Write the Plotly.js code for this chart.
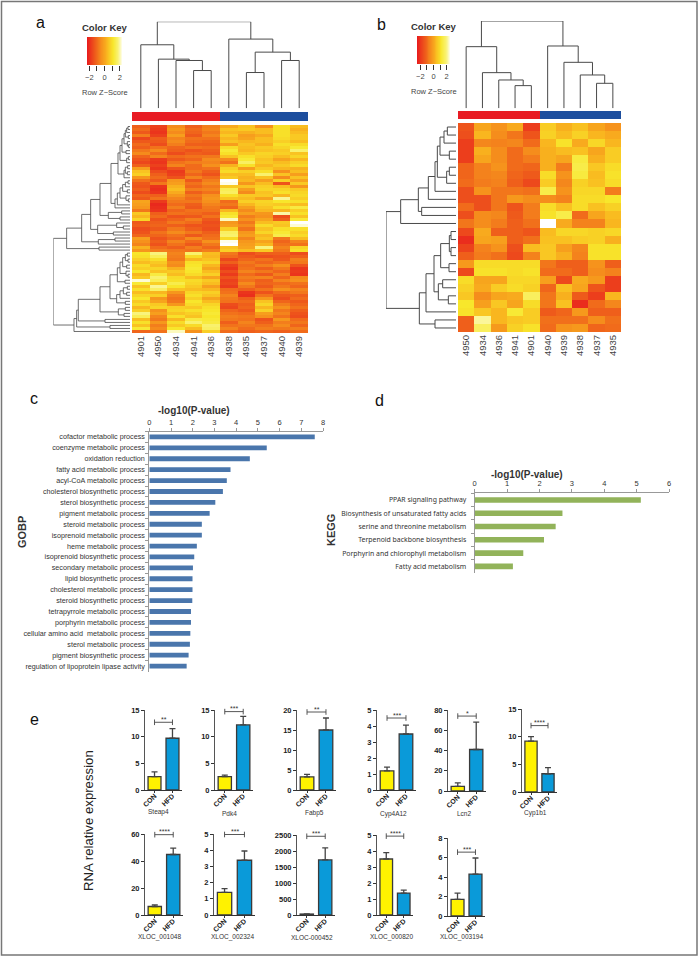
<!DOCTYPE html>
<html><head><meta charset="utf-8">
<script src="https://cdn.plot.ly/plotly-3.0.1.min.js"></script>
<style>html,body{margin:0;padding:0;background:#fff}</style></head>
<body><div id="chart" style="width:699px;height:958px"></div>
<script>
// ---------- heatmap a ----------
const samplesA = ['4901','4950','4934','4941','4936','4938','4935','4937','4940','4939'];
const groupsA = [0,0,0,0,0,1,1,1,1,1];
const heatA = [
[-1.2,-1.7,-0.5,-1.2,-0.7,0.0,0.4,-0.4,0.9,0.3],
[-1.0,-1.8,-0.3,-1.0,-0.6,0.4,0.5,0.3,0.9,0.1],
[-1.3,-1.9,-0.5,-1.1,-0.8,0.2,0.1,0.3,0.9,0.3],
[-0.7,-1.7,-0.2,-1.3,-0.6,0.5,-0.2,0.0,0.9,0.5],
[-1.6,-1.2,-0.6,-0.9,-0.9,0.2,-0.1,0.3,0.8,0.5],
[-1.3,-1.3,-0.5,-1.0,-1.1,0.4,0.2,0.3,0.6,0.3],
[-1.0,-1.5,-0.7,-1.2,-1.2,-0.2,0.4,0.1,0.9,0.8],
[-1.2,-0.9,-1.1,-0.9,-1.0,0.8,0.3,0.5,0.7,1.1],
[-0.8,-0.5,-1.2,-1.4,-1.2,1.1,0.2,0.4,0.5,1.6],
[-0.5,-1.0,-1.5,-1.2,-1.3,0.9,0.5,0.7,0.6,0.4],
[-1.1,-0.6,-1.0,-0.9,-0.8,0.4,0.9,0.6,0.3,0.7],
[-1.4,-1.8,-1.3,-1.1,-0.5,-0.5,1.1,0.4,-0.1,0.2],
[-1.6,-1.9,-0.9,-0.7,-0.6,-0.9,1.5,0.5,0.3,0.6],
[-1.2,-1.7,-0.6,-1.0,-0.4,0.1,0.9,0.2,0.5,0.8],
[-0.2,-1.9,-1.4,-1.0,-0.9,0.6,-0.2,0.5,0.2,0.1],
[0.4,-1.5,-1.8,-0.8,-1.2,0.8,0.6,0.9,-0.4,0.3],
[0.6,-1.2,-1.7,-1.1,-1.4,0.3,0.3,1.6,0.4,-0.2],
[-0.3,-1.0,-1.4,-0.6,-1.0,0.5,0.1,0.4,-0.5,0.4],
[-0.9,-1.3,-0.3,-1.3,-0.7,2.3,0.2,-0.2,0.6,-0.1],
[-1.3,-0.8,-0.2,-0.9,-0.5,2.2,-0.3,0.3,-1.4,0.5],
[-1.4,-1.9,0.1,-1.1,-0.8,0.5,0.4,0.6,0.3,-0.3],
[-1.2,-2.0,0.3,-0.7,-0.6,1.4,-0.2,0.7,0.7,0.5],
[-1.5,-1.9,0.0,-1.2,-0.9,1.5,-0.5,0.4,0.9,0.7],
[-1.1,-1.2,-0.3,-0.8,-0.4,0.9,0.5,0.5,0.2,0.8],
[-1.3,-0.9,-0.6,-1.0,-0.3,0.4,0.3,-0.1,1.8,0.6],
[-0.1,-1.8,-0.8,-0.8,-0.4,-1.0,0.6,0.7,1.0,0.9],
[-0.2,-2.1,-1.0,-1.2,-0.6,-0.8,0.2,0.6,0.5,0.3],
[-0.3,-2.0,-0.7,-1.3,-0.8,-1.1,-0.2,0.4,0.9,1.2],
[-0.8,-1.9,-1.1,-0.9,-0.9,0.2,-0.5,0.2,0.2,0.6],
[0.5,-1.2,-0.9,-1.0,-1.2,0.9,-0.2,-0.3,1.9,0.9],
[0.2,-1.0,-1.4,-1.3,-0.9,1.1,-0.7,-0.4,-1.5,0.4],
[0.7,-1.4,-1.1,-0.7,-1.3,2.0,-0.4,-0.1,-1.2,1.1],
[-1.3,-1.2,-0.8,-1.0,-1.5,-0.3,-0.8,0.3,0.5,2.3],
[-1.2,-1.1,-1.2,-1.4,-1.4,-0.2,-0.5,0.8,0.4,2.1],
[-1.5,-1.3,-0.8,-1.2,-1.5,0.6,-0.9,0.4,0.9,0.9],
[-1.4,-0.9,-0.5,-0.8,-1.2,1.5,-0.3,0.7,1.1,0.6],
[-1.1,-1.1,-0.9,-1.3,-1.0,1.6,-0.2,0.2,1.3,0.8],
[-0.2,-1.4,-1.1,-0.5,-0.9,0.8,-0.6,0.4,-0.8,0.3],
[-0.4,-1.2,-0.6,-1.0,-0.4,2.2,-0.3,-0.1,-1.1,-0.6],
[-0.6,-1.4,-0.9,-1.3,-0.8,2.3,-0.2,0.2,-0.9,-0.9],
[0.1,-1.0,-1.2,-0.7,-1.1,0.4,-0.1,1.7,-0.6,0.7],
[-0.3,-0.7,-0.8,-0.9,-0.7,0.6,0.3,0.5,-0.8,0.9],
[1.0,1.7,-0.6,1.6,0.3,-0.8,-1.5,-1.2,-1.2,-1.5],
[0.9,1.4,-0.7,0.8,0.2,-1.0,-1.3,-1.5,-1.4,-1.2],
[0.6,0.9,-0.8,0.2,0.4,-1.6,-1.1,-0.9,-1.3,-0.7],
[0.3,0.5,-0.4,0.9,0.7,-1.2,-0.8,-1.1,-0.9,-0.8],
[0.8,0.3,-0.5,1.0,0.2,-1.7,-1.0,-0.7,-0.4,-1.4],
[0.6,0.7,0.1,1.1,-0.1,-1.9,-0.9,-1.2,-0.8,-1.9],
[1.0,0.4,0.5,1.0,0.3,-1.5,-0.6,-0.8,-1.1,-1.8],
[0.2,1.2,0.3,0.8,0.6,-1.8,-1.0,-1.3,-0.7,-1.9],
[0.5,1.6,0.8,0.3,-0.1,-1.4,-0.7,-0.6,-1.1,-0.5],
[2.1,1.4,0.9,0.8,0.5,-1.7,-0.9,-1.2,-0.6,-0.4],
[1.1,0.6,1.3,0.7,0.3,-1.6,-0.5,-1.1,-1.0,-0.9],
[0.4,1.8,1.0,0.5,-0.2,-1.8,-0.8,-1.3,-0.8,-1.1],
[0.9,1.5,0.4,0.3,0.2,-1.0,-1.2,-0.9,-0.4,-0.6],
[0.3,0.2,-0.3,0.7,0.6,-0.9,-1.9,-1.4,-1.0,-0.8],
[0.7,0.6,-0.7,0.9,0.4,-0.6,-2.0,-0.9,-1.3,-1.2],
[1.0,-0.3,-0.9,0.6,-0.1,-0.8,-1.2,-0.3,-1.5,-1.0],
[0.5,-0.1,-0.8,1.0,0.3,-0.9,-1.0,0.4,-1.1,-1.3],
[0.8,0.5,-0.3,0.8,0.7,-1.5,-1.2,0.7,-0.7,-1.1],
[0.2,0.7,0.6,0.5,0.9,-1.6,-1.1,0.2,-0.4,-0.9],
[0.6,-0.4,0.7,0.9,1.0,-1.1,-1.3,0.6,-0.8,-1.2],
[1.7,-0.2,0.4,0.6,1.1,-0.9,-1.0,-0.2,-0.6,-1.4],
[1.4,-0.6,0.9,0.4,1.0,-0.7,-0.8,-0.4,-0.9,-1.5],
[0.3,-0.8,0.2,1.2,1.1,-0.8,-0.9,-1.4,-0.3,-1.0],
[0.9,-0.3,0.8,1.6,1.2,-1.2,-0.6,-1.2,-0.7,-0.8],
[0.4,-0.7,0.5,0.8,1.6,-0.9,-0.8,-0.9,-0.5,-1.1],
[1.1,-0.5,1.0,0.3,1.5,-0.6,-1.0,-0.7,-0.8,-0.7],
[-1.1,-0.9,2.0,-0.4,0.6,-1.0,-1.2,-1.1,-1.2,-1.0]
];
const keyValuesA = [-2.3,-2,-1.6,-1.2,-0.8,-0.4,0,0.4,0.8,1.2,1.6,2,2.3];
const keyTickVals = [-2,-1,0,1,2];
const keyTickText = ['\u22122','','0','','2'];
// trees: [height, child, child]; 0 is a leaf, leaves run in display order
const topTreeA = [259,
  [190,0,[147,0,[143,0,[113,0,0]]]],
  [207,0,[168,[107,0,0],[143,0,0]]]];
const leftTreeA = [230,
 [190,
  [145,
   [118,
    [90,
     [57,
      [36,
       [30,
        [24,
         [18,[14,[10,[6,0,0],0],[5,0,0]],[8,0,[4,0,0]]],
         [12,0,0]],
        [10,[5,0,0],0]],
       [18,[14,[7,0,0],[8,0,0]],0]],
      [45,[38,[30,[22,[14,[6,0,0],0],[8,0,0]],[12,0,[5,0,0]]],0],0]],
     [65,[25,0,0],[30,0,0]]],
    [97,[40,0,[20,0,0]],[50,0,0]]],
   [95,[45,0,0],0]],
  [93,0,0]],
 [168,
  [160,
   [155,
    [90,
     [60,
      [38,[30,[22,[14,[8,0,0],[6,0,0]],[10,0,0]],[12,0,[6,0,0]]],[15,0,0]],
      [40,[30,[20,[8,0,0],[10,0,0]],0],[14,0,0]]],
     [35,[14,0,0],[18,0,0]]],
    [75,0,0]],
   [60,0,0]],
  0]];
// ---------- heatmap b ----------
const samplesB = ['4950','4934','4936','4941','4901','4940','4939','4938','4937','4935'];
const groupsB = [0,0,0,0,0,1,1,1,1,1];
const heatB = [
[-1.5,-0.1,-0.4,0.0,-1.9,0.6,0.1,0.4,-0.1,-0.4],
[-1.6,0.2,-0.5,-0.9,-1.5,0.7,0.3,0.7,0.2,0.0],
[-1.9,-0.6,-0.7,-0.6,-1.1,0.2,1.0,0.0,0.8,0.2],
[-1.9,0.1,-0.5,-1.1,-0.5,0.1,0.3,0.4,-0.1,0.6],
[-1.9,-0.1,-0.5,-1.1,-0.8,0.1,-0.1,1.3,0.1,0.6],
[-1.2,-0.7,-0.4,-1.1,-1.2,0.1,-0.8,1.4,0.5,0.9],
[-1.2,-0.7,-0.6,-1.2,-1.4,0.9,-0.4,1.3,0.3,1.0],
[-1.1,-0.8,-0.7,-1.3,-1.7,0.6,-0.6,0.7,0.4,0.9],
[-1.6,-0.4,-0.9,-0.9,-1.0,1.4,-0.4,0.8,0.8,-0.8],
[-1.6,-1.6,-0.9,-0.3,-0.5,-0.5,-0.7,0.9,0.9,1.1],
[-1.1,-1.6,-0.9,-1.5,-0.8,0.9,0.4,0.9,0.4,0.7],
[-1.6,-0.5,-0.6,-1.4,-0.8,1.0,1.4,-1.1,-0.1,0.3],
[-0.9,-0.5,-0.8,-1.3,-1.0,2.5,0.0,-0.7,-0.7,0.2],
[-1.7,0.0,-1.3,-1.3,-1.5,0.3,0.8,0.8,0.7,0.8],
[-2.2,-0.1,-0.2,-1.3,-1.0,0.4,0.4,0.6,0.7,0.1],
[-1.8,-0.7,-0.4,-1.6,0.3,0.5,-0.2,-0.6,1.0,1.0],
[-1.3,-0.8,-1.0,-1.7,-0.7,0.5,0.1,-0.7,1.0,1.0],
[-0.3,0.9,0.9,0.9,0.9,-0.9,-1.3,-1.3,-0.4,-1.3],
[-1.7,1.0,1.0,0.9,1.0,-1.1,-1.1,-1.3,-0.5,-0.7],
[0.9,-0.1,-0.1,0.8,0.8,-0.2,-1.7,0.0,-0.3,-1.9],
[0.7,0.0,0.6,0.9,0.7,-1.2,0.4,-0.1,-1.5,-1.9],
[0.5,-0.5,-0.1,0.0,1.6,-0.9,0.1,-1.4,-1.9,0.2],
[1.1,-0.2,0.5,-0.1,0.9,-0.9,0.4,-2.2,-1.1,-0.6],
[1.0,0.5,0.2,1.2,0.6,-1.4,-1.2,-0.3,-1.3,-1.3],
[-1.3,2.0,0.2,0.5,0.6,-1.0,-1.0,-1.0,-0.5,-1.0],
[-1.3,1.6,-0.3,0.7,1.0,-1.1,-0.4,-0.3,-1.2,-1.1]
];
const keyValuesB = [-2.5,-2,-1.6,-1.2,-0.8,-0.4,0,0.4,0.8,1.2,1.6,2,2.5];
const topTreeB = [262,
  [185,0,[107,0,[85,0,[68,0,0]]]],
  [187,0,[138,0,[100,0,[75,0,0]]]]];
const leftTreeB = [210,
 [166,
  [113,
   [83,
    [63,
     [56,
      [48,[36,[26,0,0],0],[20,0,0]],
      [28,[20,0,0],0]],
     0],
    0],
   [103,0,0]],
  0],
 [110,
  [90,
   [66,
    [46,
     [20,[15,0,0],[15,0,0]],
     [21,0,0]],
    [53,[40,0,0],[23,0,0]]],
   0],
  [63,0,0]]];
// ---------- GOBP / KEGG ----------
const gobpTerms = ['cofactor metabolic process','coenzyme metabolic process','oxidation reduction','fatty acid metabolic process','acyl-CoA metabolic process','cholesterol biosynthetic process','sterol biosynthetic process','pigment metabolic process','steroid metabolic process','isoprenoid metabolic process','heme metabolic process','isoprenoid biosynthetic process','secondary metabolic process','lipid biosynthetic process','cholesterol metabolic process','steroid biosynthetic process','tetrapyrrole metabolic process','porphyrin metabolic process','cellular amino acid  metabolic process','sterol metabolic process','pigment biosynthetic process','regulation of lipoprotein lipase activity'];
const gobpValues = [7.62,5.41,4.63,3.74,3.57,3.39,3.04,2.78,2.42,2.42,2.19,2.07,2.01,1.99,1.99,1.98,1.92,1.92,1.89,1.87,1.81,1.72];
const keggTerms = ['PPAR signaling pathway','Biosynthesis of unsaturated fatty acids','serine and threonine metabolism','Terpenoid backbone biosynthesis','Porphyrin and chlorophyll metabolism','Fatty acid metabolism'];
const keggValues = [5.13,2.71,2.5,2.14,1.5,1.18];
// ---------- RNA bars ----------
const barGroups = ['CON','HFD'];
const geneNames = ['Steap4','Pdk4','Fabp5','Cyp4A12','Lcn2','Cyp1b1','XLOC_001048','XLOC_002324','XLOC-000452','XLOC_000820','XLOC_003194'];
const conMeans = [2.5,2.5,3.3,1.2,4.5,9.2,6.3,1.4,30,3.5,1.7];
const hfdMeans = [9.7,12.2,15,3.5,41,3.3,44.8,3.38,1720,1.37,4.3];
const conErrors = [0.9,0.3,0.6,0.23,3.5,0.8,1.2,0.23,5,0.4,0.65];
const hfdErrors = [1.8,1.6,3,0.55,27,1.1,4.7,0.57,380,0.18,1.65];
const axisMax = [15,15,20,5,80,15,60,5,2500,5,8];
const axisTicks = [[0,5,10,15],[0,5,10,15],[0,5,10,15,20],[0,1,2,3,4,5],[0,20,40,60,80],[0,5,10,15],[0,20,40,60],[0,1,2,3,4,5],[0,500,1000,1500,2000,2500],[0,1,2,3,4,5],[0,2,4,6,8]];
const bracketLevels = [12.7,14.7,19.5,4.5,74,12,59.5,4.97,2460,4.93,6.55];
const stars = ['**','***','**','***','*','****','****','***','***','****','***'];

// ---------- layout helpers ----------
const W=699,H=958, ARIAL='"Liberation Sans", Arial, sans-serif';
const data=[], annotations=[];
const layout={width:W,height:H,margin:{l:0,r:0,t:0,b:0},paper_bgcolor:'#fff',plot_bgcolor:'rgba(0,0,0,0)',showlegend:false,hovermode:false,font:{family:ARIAL,color:'#333'},annotations,
  shapes:[{type:'rect',xref:'paper',yref:'paper',x0:1.5/W,x1:697/W,y0:1-955/H,y1:1-1.5/H,line:{color:'#777',width:1.5}}]};
let axN=0;
function panel(xpx,ypx,xo,yo){
  axN++; const s=axN===1?'':axN;
  const base={fixedrange:true,showgrid:false,zeroline:false,showticklabels:false,ticks:''};
  layout['xaxis'+s]=Object.assign({},base,{domain:[xpx[0]/W,xpx[1]/W],anchor:'y'+s},xo);
  layout['yaxis'+s]=Object.assign({},base,{domain:[1-ypx[1]/H,1-ypx[0]/H],anchor:'x'+s},yo);
  return {xaxis:'x'+s,yaxis:'y'+s};
}
function text(t,x,y,size,opt){
  annotations.push(Object.assign({text:t,xref:'paper',yref:'paper',x:x/W,y:1-y/H,showarrow:false,xanchor:'center',yanchor:'middle',font:{size,family:ARIAL,color:'#333'}},opt||{}));
}
function walk(tree,st,a,b){ // collects a dendrogram outline from a nested tree
  if(tree===0) return {p:st.n++,h:0};
  const l=walk(tree[1],st,a,b), r=walk(tree[2],st,a,b), h=tree[0];
  a.push(l.p,l.p,r.p,r.p,null); b.push(l.h,h,h,r.h,null);
  return {p:(l.p+r.p)/2,h};
}
const heatScale=[[0,'#e81d1d'],[0.24,'#ef5f1b'],[0.42,'#f6931c'],[0.55,'#f9b91f'],[0.72,'#f8e72b'],[0.86,'#f9f272'],[1,'#ffffff']];
const dendroLine={color:'#4a4a4a',width:1};

function heatPanel(o){
  const ax=panel(o.hx,o.hy,{range:[-0.5,9.5],tickmode:'array',tickvals:o.samples.map((_,i)=>i),ticktext:o.samples,showticklabels:true,tickangle:-90,tickfont:{size:9.5,color:'#444',family:ARIAL}},
     {range:[o.z.length-0.5,-0.5]});
  data.push(Object.assign({type:'heatmap',z:o.z,colorscale:heatScale,zmin:-o.k,zmax:o.k,showscale:false},ax));
  const bar=panel(o.hx,o.by,{range:[-0.5,9.5]},{range:[-0.5,0.5]});
  data.push(Object.assign({type:'heatmap',z:[o.groups],colorscale:[[0,'#e81c24'],[1,'#1d4e9e']],zmin:0,zmax:1,showscale:false},bar));
  // top dendrogram
  let a=[],b=[]; walk(o.top,{n:0},a,b);
  const tp=panel(o.hx,o.ty,{range:[-0.5,9.5]},{range:[0,o.top[0]]});
  data.push(Object.assign({type:'scatter',mode:'lines',x:a,y:b,line:dendroLine,cliponaxis:false},tp));
  // left dendrogram
  a=[];b=[]; walk(o.left,{n:0},a,b);
  const lf=panel(o.lx,o.hy,{range:[o.left[0],0]},{range:[o.z.length-0.5,-0.5]});
  data.push(Object.assign({type:'scatter',mode:'lines',x:b,y:a,line:o.leftLine||dendroLine,cliponaxis:false},lf));
  // colour key
  const kr=[o.key[0],o.key[o.key.length-1]];
  const key=panel(o.kx,o.ky,{range:kr,tickmode:'array',tickvals:keyTickVals,ticktext:keyTickText,showticklabels:true,ticks:'outside',ticklen:5,tickwidth:1,tickcolor:'#333',tickfont:{size:7.5,color:'#444',family:ARIAL}},{range:[0,1]});
  data.push(Object.assign({type:'heatmap',x:o.key,y:[0,1],z:[o.key,o.key],colorscale:heatScale,zmin:-o.k,zmax:o.k,zsmooth:'best',showscale:false},key));
  const cx=(o.kx[0]+o.kx[1])/2;
  text('<b>Color Key</b>',cx,o.ky[0]-9,9.5);
  text('Row Z\u2212Score',cx,o.ky[1]+27,7.5,{font:{size:7.5,family:ARIAL,color:'#444'}});
}
heatPanel({samples:samplesA,groups:groupsA,z:heatA,top:topTreeA,left:leftTreeA,key:keyValuesA,k:2.3,
  hx:[132,308],hy:[125,333],by:[112,121],ty:[21.7,108.3],lx:[53.3,130],kx:[87,122],ky:[37,65],leftLine:{color:'#4a4a4a',width:0.8}});
heatPanel({samples:samplesB,groups:groupsB,z:heatB,top:topTreeB,left:leftTreeB,key:keyValuesB,k:2.5,
  hx:[458,621],hy:[123,332],by:[111,119],ty:[21,108.3],lx:[386,456],kx:[417,450],ky:[36,64]});

// GOBP
const ec=panel([149.3,323],[431.5,671.5],
 {range:[0,8],side:'top',showline:true,linecolor:'#999',linewidth:1,ticks:'outside',ticklen:3,tickcolor:'#999',dtick:1,showticklabels:true,tickfont:{size:7.5,color:'#333',family:ARIAL}},
 {type:'category',range:[21.5,-0.5],showline:true,linecolor:'#999',linewidth:1,ticks:'outside',ticklen:3,tickcolor:'#999',tickson:'boundaries',showticklabels:true,ticklabelstandoff:2,tickfont:{size:7.2,color:'#333',family:ARIAL}});
data.push(Object.assign({type:'bar',orientation:'h',x:gobpValues,y:gobpTerms,width:0.44,marker:{color:'#4a76ac'}},ec));
// KEGG
const ed=panel([474.7,669],[493.4,573],
 {range:[0,6],side:'top',showline:true,linecolor:'#999',linewidth:1,ticks:'outside',ticklen:3,tickcolor:'#999',dtick:1,showticklabels:true,tickfont:{size:7.5,color:'#333',family:ARIAL}},
 {type:'category',range:[5.5,-0.5],showline:true,linecolor:'#999',linewidth:1,ticks:'outside',ticklen:3,tickcolor:'#999',tickson:'boundaries',showticklabels:true,ticklabelstandoff:6,tickfont:{size:6.9,color:'#333',family:'"Noto Sans",sans-serif'}});
data.push(Object.assign({type:'bar',orientation:'h',x:keggValues,y:keggTerms,width:0.42,marker:{color:'#92b35a'}},ed));
text('<b>-log10(P-value)</b>',194,410,10);
text('<b>-log10(P-value)</b>',527,474,10);
text('<b>GOBP</b>',22,532,11,{textangle:-90});
text('<b>KEGG</b>',331,530,11,{textangle:-90});

// RNA bars
const barX=[[145,182],[215,253],[297,336],[377,416],[448,486],[522,557],[145,183],[214,255],[297,335],[377,413],[448,485]];
const barY=[[710,790],[710,790],[710,790],[710,790],[710,791],[709,792],[834,915],[834,915],[835,915],[835,915],[838,916]];
const labelPos=[[158,812],[229,813],[314,813],[393,814],[464,813],[535,813],[159,937],[232,937],[312,937],[391,937],[461,937]];
geneNames.forEach((g,i)=>{
  const ax=panel(barX[i],barY[i],
   {type:'category',range:[-0.53,1.53],showline:true,linecolor:'#333',linewidth:1.2,ticks:'outside',ticklen:2,tickcolor:'#333',showticklabels:true,tickangle:-45,ticklabelstandoff:-4,tickfont:{size:7,color:'#222',family:ARIAL,weight:700}},
   {range:[0,axisMax[i]],showline:true,linecolor:'#555',linewidth:1,ticks:'outside',ticklen:3,tickcolor:'#333',tickmode:'array',tickvals:axisTicks[i],showticklabels:true,tickfont:{size:7.5,color:'#222',family:ARIAL,weight:700}});
  data.push(Object.assign({type:'bar',x:barGroups,y:[conMeans[i],hfdMeans[i]],width:0.72,cliponaxis:false,
    marker:{color:['#fff200','#0a9ad9'],line:{color:'#3a3a3a',width:1.3}},
    error_y:{type:'data',symmetric:false,array:[conErrors[i],hfdErrors[i]],arrayminus:[0,0],color:'#444',thickness:1.3,width:3}},ax));
  data.push(Object.assign({type:'scatter',mode:'lines+markers',x:barGroups,y:[bracketLevels[i],bracketLevels[i]],cliponaxis:false,
    line:{color:'#444',width:0.9},marker:{symbol:'line-ns',size:4,line:{color:'#444',width:0.9}}},ax));
  annotations.push({text:stars[i],xref:ax.xaxis,yref:ax.yaxis,x:0.5,y:bracketLevels[i],yanchor:'middle',yshift:3,showarrow:false,font:{size:7,color:'#333',family:ARIAL}});
  text(g,labelPos[i][0],labelPos[i][1],6.5);
});
text('RNA relative expression',88,821,13.2,{textangle:-90,font:{size:13.2,family:ARIAL,color:'#222'}});
// panel letters
[['a',40,22],['b',381,24],['c',34,398],['d',379,400],['e',34,719]].forEach(l=>text(l[0],l[1],l[2],16,{font:{size:16,family:ARIAL,color:'#111'}}));

Plotly.newPlot('chart',data,layout,{staticPlot:true,displayModeBar:false});
</script></body></html>
